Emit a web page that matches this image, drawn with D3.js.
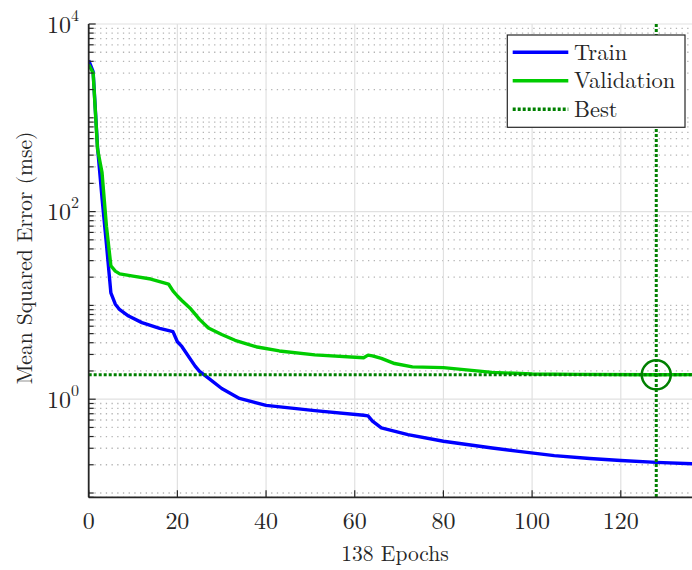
<!DOCTYPE html>
<html>
<head>
<meta charset="utf-8">
<script src="https://cdn.jsdelivr.net/npm/d3@7"></script>
<style>
  html, body { margin: 0; padding: 0; background: #fff; }
  svg { display: block; }
  text { font-family: "Latin Modern Roman", "CMU Serif", "Liberation Serif", "DejaVu Serif", serif; fill: #262626; }
</style>
</head>
<body>
<div id="chart"></div>
<script>
// Training record: mean squared error per epoch (log scale)
const trainEpochs = [0, 1, 2, 3, 4, 5, 6, 7, 9, 12, 16, 19, 20, 21, 24, 25, 27, 30, 34, 40, 51, 62, 63, 64, 66, 72, 80, 91, 97, 105, 113, 120, 128, 138];
const trainMse    = [4100, 3100, 480, 140, 45, 13.6, 10.3, 9.0, 7.7, 6.55, 5.7, 5.25, 4.1, 3.65, 2.25, 1.98, 1.68, 1.3, 1.02, 0.86, 0.755, 0.675, 0.665, 0.585, 0.495, 0.42, 0.356, 0.302, 0.278, 0.25, 0.233, 0.222, 0.212, 0.203];

const valEpochs = [0, 1, 2, 3, 4, 5, 6, 7, 10, 14, 18, 19, 20, 21, 23, 25, 27, 30, 33, 38, 43, 51, 62, 63, 64, 66, 69, 73, 80, 91, 100, 110, 128, 138];
const valMse    = [3700, 3000, 460, 262, 70, 26.5, 23.2, 21.7, 20.5, 19.1, 16.9, 14.3, 12.6, 11.3, 9.2, 7.1, 5.75, 4.9, 4.25, 3.6, 3.27, 2.97, 2.77, 2.95, 2.9, 2.72, 2.4, 2.21, 2.17, 1.93, 1.86, 1.84, 1.82, 1.83];

const bestEpoch = 128;
const bestMse = 1.82;
const totalEpochs = 138;

const xTicks = [0, 20, 40, 60, 80, 100, 120];
const yMajorExponents = [0, 2, 4];
const yDomain = [0.09, 10000];

const seriesNames = ["Train", "Validation", "Best"];
const colors = { train: "#0000ff", val: "#00cc00", best: "#008000" };

const W = 692, H = 570;
const margin = { left: 88.7, top: 24, bottom: 72.7 };
const plotRight = 700.6;

const svg = d3.select("#chart").append("svg").attr("width", W).attr("height", H);

const x = d3.scaleLinear().domain([0, totalEpochs]).range([margin.left, plotRight]);
const y = d3.scaleLog().domain(yDomain).range([H - margin.bottom, margin.top]);

const [yBottom, yTop] = y.range();

// minor log ticks (1..9 per decade) and major decades
const minorVals = [];
for (let e = -2; e <= 4; e++) {
  for (let m = 1; m <= 9; m++) {
    const v = m * Math.pow(10, e);
    if (v >= yDomain[0] - 1e-9 && v <= yDomain[1] + 1e-9 && !(m === 1 && yMajorExponents.includes(e))) minorVals.push(v);
  }
}
const majorVals = yMajorExponents.map(e => Math.pow(10, e));

const grid = svg.append("g");
// dotted minor grid
grid.selectAll("line.minor").data(minorVals).join("line")
  .attr("x1", margin.left).attr("x2", W)
  .attr("y1", d => y(d)).attr("y2", d => y(d))
  .attr("stroke", "#b4b4b4").attr("stroke-width", 1.3)
  .attr("stroke-dasharray", "1.3,4.4");
// solid major grid
grid.selectAll("line.majy").data(majorVals).join("line")
  .attr("x1", margin.left).attr("x2", W)
  .attr("y1", d => y(d)).attr("y2", d => y(d))
  .attr("stroke", "#e1e1e1").attr("stroke-width", 1.2);
grid.selectAll("line.majx").data(xTicks.filter(t => t > 0)).join("line")
  .attr("x1", d => x(d)).attr("x2", d => x(d))
  .attr("y1", yTop).attr("y2", yBottom)
  .attr("stroke", "#e1e1e1").attr("stroke-width", 1.2);

// clip region for data
svg.append("clipPath").attr("id", "plotclip").append("rect")
  .attr("x", margin.left).attr("y", yTop - 2).attr("width", plotRight - margin.left).attr("height", yBottom - yTop + 2);

const plot = svg.append("g").attr("clip-path", "url(#plotclip)");

const line = d3.line().x(d => x(d[0])).y(d => y(d[1]));

plot.append("path")
  .datum(trainEpochs.map((e, i) => [e, trainMse[i]]))
  .attr("d", line).attr("fill", "none")
  .attr("stroke", colors.train).attr("stroke-width", 3.4).attr("stroke-linejoin", "round");

plot.append("path")
  .datum(valEpochs.map((e, i) => [e, valMse[i]]))
  .attr("d", line).attr("fill", "none")
  .attr("stroke", colors.val).attr("stroke-width", 3.4).attr("stroke-linejoin", "round");

// best epoch markers
plot.append("line")
  .attr("x1", x(0)).attr("x2", x(totalEpochs))
  .attr("y1", y(bestMse)).attr("y2", y(bestMse))
  .attr("stroke", colors.best).attr("stroke-width", 3).attr("stroke-dasharray", "3,2");
plot.append("line")
  .attr("x1", x(bestEpoch)).attr("x2", x(bestEpoch))
  .attr("y1", yTop).attr("y2", yBottom)
  .attr("stroke", colors.best).attr("stroke-width", 3).attr("stroke-dasharray", "3,2");
plot.append("circle")
  .attr("cx", x(bestEpoch)).attr("cy", y(bestMse)).attr("r", 14.5)
  .attr("fill", "none").attr("stroke", colors.best).attr("stroke-width", 2.5);

// axes
const axisColor = "#262626";
const ax = svg.append("g");
ax.append("line").attr("x1", margin.left).attr("x2", margin.left).attr("y1", yTop).attr("y2", yBottom)
  .attr("stroke", axisColor).attr("stroke-width", 1.8);
ax.append("line").attr("x1", margin.left).attr("x2", W).attr("y1", yBottom).attr("y2", yBottom)
  .attr("stroke", axisColor).attr("stroke-width", 1.8);

// y ticks (inward)
ax.selectAll("line.ytmin").data(minorVals).join("line")
  .attr("x1", margin.left).attr("x2", margin.left + 5)
  .attr("y1", d => y(d)).attr("y2", d => y(d))
  .attr("stroke", axisColor).attr("stroke-width", 1.2);
ax.selectAll("line.ytmaj").data(majorVals).join("line")
  .attr("x1", margin.left).attr("x2", margin.left + 7)
  .attr("y1", d => y(d)).attr("y2", d => y(d))
  .attr("stroke", axisColor).attr("stroke-width", 1.2);

// x ticks (inward)
ax.selectAll("line.xt").data(xTicks).join("line")
  .attr("x1", d => x(d)).attr("x2", d => x(d))
  .attr("y1", yBottom).attr("y2", yBottom - 7)
  .attr("stroke", axisColor).attr("stroke-width", 1.2);

// x tick labels
ax.selectAll("text.xl").data(xTicks).join("text")
  .attr("x", d => x(d)).attr("y", yBottom + 32)
  .attr("text-anchor", "middle").attr("font-size", 24)
  .text(d => d);

// y tick labels 10^n
const yl = ax.selectAll("text.yl").data(yMajorExponents).join("text")
  .attr("x", 79).attr("y", d => y(Math.pow(10, d)) + 8.5)
  .attr("text-anchor", "end").attr("font-size", 24);
yl.append("tspan").text("10");
yl.append("tspan").attr("dy", -12).attr("font-size", 16).text(d => d);

// axis titles
svg.append("text")
  .attr("x", 395).attr("y", 561)
  .attr("text-anchor", "middle").attr("font-size", 21.5)
  .text(totalEpochs + " Epochs");
svg.append("text")
  .attr("transform", "translate(32," + 258 + ") rotate(-90)")
  .attr("text-anchor", "middle").attr("font-size", 21.5)
  .text("Mean Squared Error  (mse)");

// legend
const lg = svg.append("g").attr("transform", "translate(507.3,35)");
lg.append("rect").attr("width", 177.7).attr("height", 92.3)
  .attr("fill", "#fff").attr("stroke", axisColor).attr("stroke-width", 1.2);
const legendItems = [
  { name: seriesNames[0], color: colors.train, dash: null },
  { name: seriesNames[1], color: colors.val, dash: null },
  { name: seriesNames[2], color: colors.best, dash: "3,2" }
];
legendItems.forEach((it, i) => {
  const cy = 17.3 + i * 28.5;
  lg.append("line").attr("x1", 5.4).attr("x2", 61).attr("y1", cy).attr("y2", cy)
    .attr("stroke", it.color).attr("stroke-width", 3.4)
    .attr("stroke-dasharray", it.dash);
  lg.append("text").attr("x", 66.7).attr("y", cy + 7.5).attr("font-size", 22.5).text(it.name);
});
</script>
</body>
</html>
